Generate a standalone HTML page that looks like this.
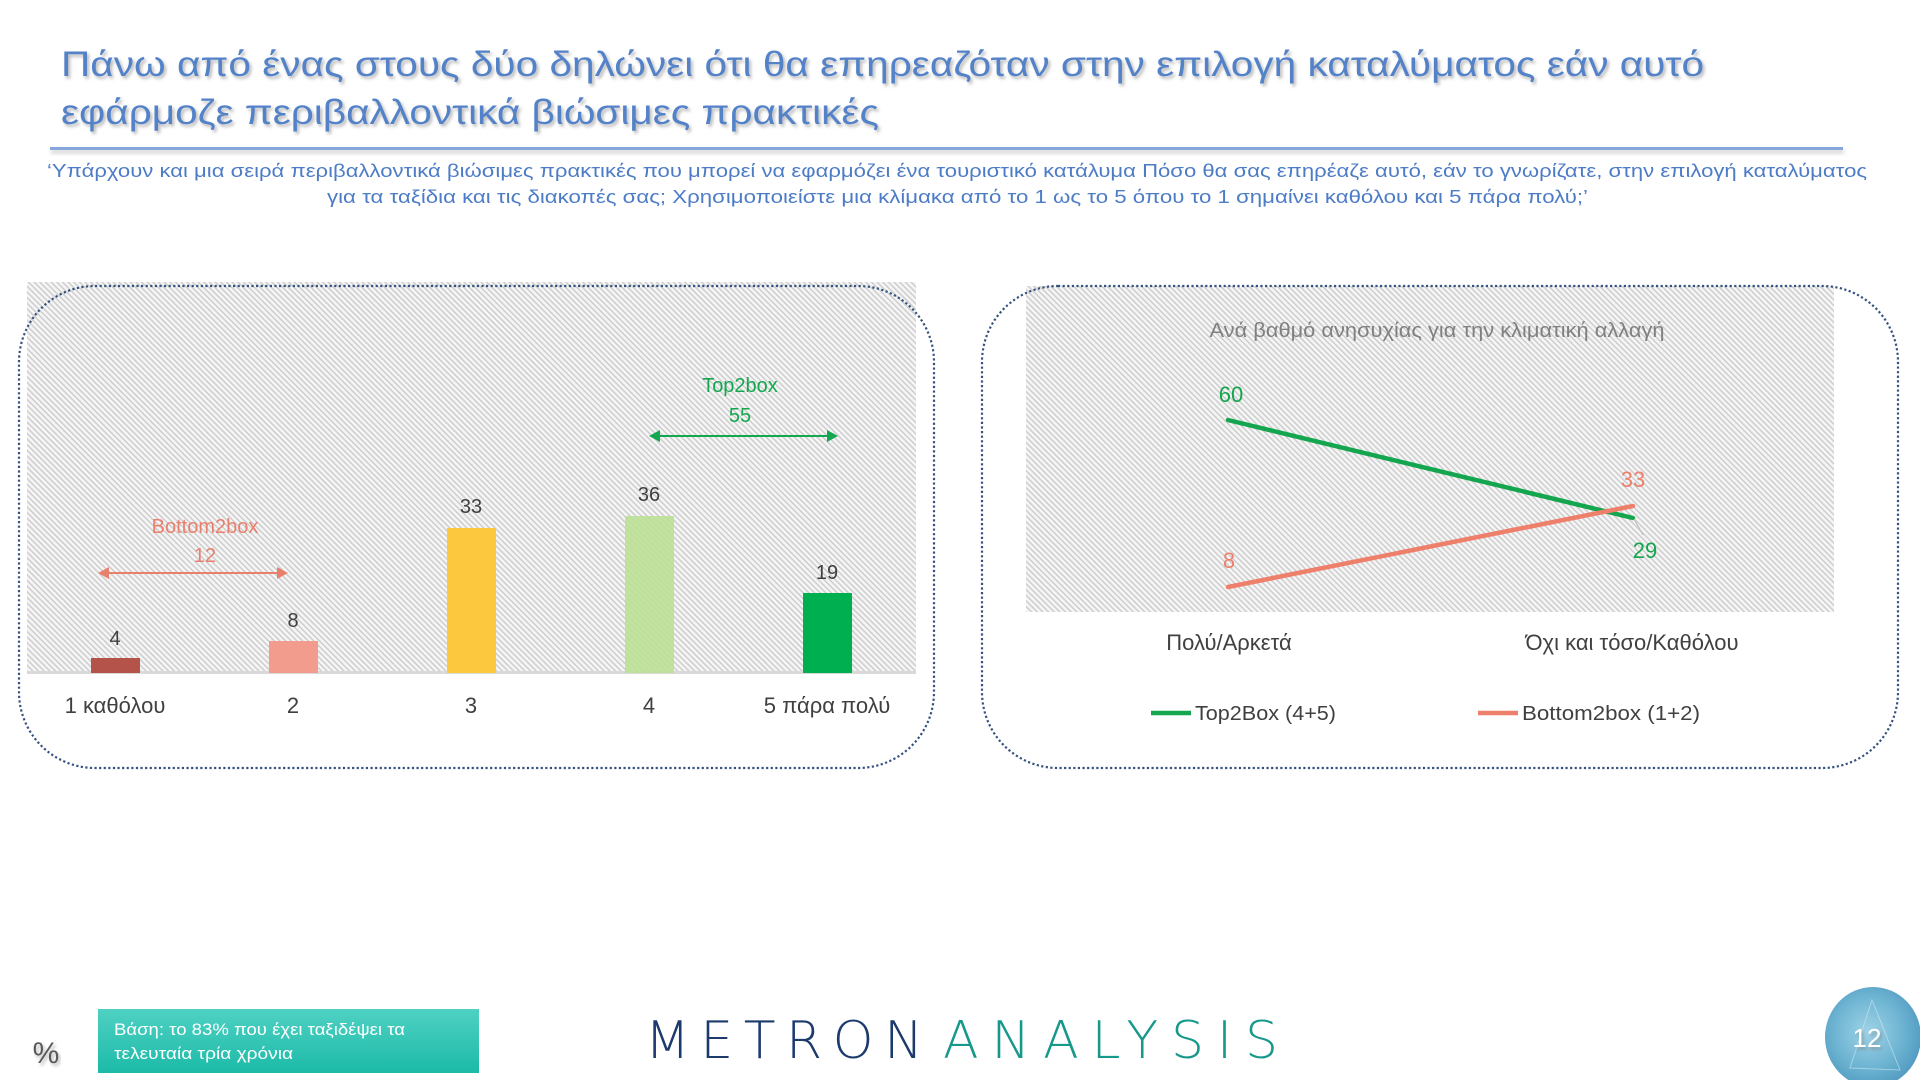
<!DOCTYPE html>
<html>
<head>
<meta charset="utf-8">
<style>
  html,body{margin:0;padding:0;background:#ffffff;}
  svg{display:block;}
  text{font-family:"Liberation Sans","DejaVu Sans",sans-serif;}
</style>
</head>
<body>
<svg width="1920" height="1080" viewBox="0 0 1920 1080" xmlns="http://www.w3.org/2000/svg">
  <defs>
    <pattern id="hatch" width="4" height="4" patternUnits="userSpaceOnUse" patternTransform="rotate(-45)">
      <rect width="4" height="4" fill="#f5f5f5"/>
      <rect width="1.4" height="4" fill="#cbcbcb"/>
    </pattern>
    <filter id="tshadow" x="-5%" y="-30%" width="110%" height="160%">
      <feDropShadow dx="2" dy="2.5" stdDeviation="1.5" flood-color="#7a7a7a" flood-opacity="0.55"/>
    </filter>
    <filter id="lshadow" x="-2%" y="-200%" width="104%" height="500%">
      <feDropShadow dx="1" dy="3" stdDeviation="2" flood-color="#8a8a8a" flood-opacity="0.5"/>
    </filter>
    <linearGradient id="teal" x1="0" y1="0" x2="0" y2="1">
      <stop offset="0" stop-color="#4fd1c3"/>
      <stop offset="1" stop-color="#1cbaa8"/>
    </linearGradient>
    <radialGradient id="circ" cx="0.45" cy="0.45" r="0.6">
      <stop offset="0" stop-color="#9fd3e6"/>
      <stop offset="0.6" stop-color="#6db4d2"/>
      <stop offset="1" stop-color="#4f98bf"/>
    </radialGradient>
  </defs>

  <!-- Title -->
  <g filter="url(#tshadow)" fill="#5282c9">
    <text x="61" y="76" font-size="35" textLength="1643" lengthAdjust="spacingAndGlyphs">Πάνω από ένας στους δύο δηλώνει ότι θα επηρεαζόταν στην επιλογή καταλύματος εάν αυτό</text>
    <text x="61" y="124" font-size="35" textLength="818" lengthAdjust="spacingAndGlyphs">εφάρμοζε περιβαλλοντικά βιώσιμες πρακτικές</text>
  </g>
  <!-- Rule -->
  <rect x="50" y="147" width="1793" height="3" fill="#86a6dc" filter="url(#lshadow)"/>

  <!-- Subtitle -->
  <g fill="#4d7cc6" font-size="18">
    <text x="47" y="177" textLength="1820" lengthAdjust="spacingAndGlyphs">‘Υπάρχουν και μια σειρά περιβαλλοντικά βιώσιμες πρακτικές που μπορεί να εφαρμόζει ένα τουριστικό κατάλυμα Πόσο θα σας επηρέαζε αυτό, εάν το γνωρίζατε, στην επιλογή καταλύματος</text>
    <text x="327" y="203" textLength="1261" lengthAdjust="spacingAndGlyphs">για τα ταξίδια και τις διακοπές σας; Χρησιμοποιείστε μια κλίμακα από το 1 ως το 5 όπου το 1 σημαίνει καθόλου και 5 πάρα πολύ;’</text>
  </g>

  <!-- LEFT PANEL -->
  <rect x="27" y="282" width="889" height="391" fill="url(#hatch)"/>
  <rect x="27" y="671" width="889" height="3" fill="#d9d9d9"/>
  <!-- bars -->
  <rect x="91" y="658" width="49" height="15" fill="#b4534a"/>
  <rect x="269" y="641" width="49" height="32" fill="#f19c8c"/>
  <rect x="447" y="528" width="49" height="145" fill="#fcc93e"/>
  <rect x="625" y="516" width="49" height="157" fill="#bde097" opacity="0.92"/>
  <rect x="803" y="593" width="49" height="80" fill="#00b050"/>
  <!-- value labels -->
  <g fill="#404040" font-size="20" text-anchor="middle">
    <text x="115" y="645">4</text>
    <text x="293" y="627">8</text>
    <text x="471" y="513">33</text>
    <text x="649" y="501">36</text>
    <text x="827" y="579">19</text>
  </g>
  <!-- category labels -->
  <g fill="#404040" font-size="22" text-anchor="middle">
    <text x="115" y="713">1 καθόλου</text>
    <text x="293" y="713">2</text>
    <text x="471" y="713">3</text>
    <text x="649" y="713">4</text>
    <text x="827" y="713">5 πάρα πολύ</text>
  </g>
  <!-- Bottom2box annotation -->
  <g fill="#e9806e" font-size="20" text-anchor="middle">
    <text x="205" y="533">Bottom2box</text>
    <text x="205" y="562">12</text>
  </g>
  <line x1="106" y1="573" x2="280" y2="573" stroke="#e9806e" stroke-width="2"/>
  <polygon points="98,573 109,567 109,579" fill="#e9806e"/>
  <polygon points="288,573 277,567 277,579" fill="#e9806e"/>
  <!-- Top2box annotation -->
  <g fill="#13a84f" font-size="20" text-anchor="middle">
    <text x="740" y="392">Top2box</text>
    <text x="740" y="422">55</text>
  </g>
  <line x1="657" y1="436" x2="830" y2="436" stroke="#13a84f" stroke-width="2"/>
  <polygon points="649,436 660,430 660,442" fill="#13a84f"/>
  <polygon points="838,436 827,430 827,442" fill="#13a84f"/>
  <!-- left border -->
  <rect x="19" y="286" width="915" height="482" rx="76" ry="76" fill="none" stroke="#35527f" stroke-width="2.2" stroke-dasharray="2.2 2.4"/>

  <!-- RIGHT PANEL -->
  <rect x="1026" y="286" width="808" height="326" fill="url(#hatch)"/>
  <text x="1437" y="337" font-size="20" fill="#808080" text-anchor="middle" textLength="455" lengthAdjust="spacingAndGlyphs">Ανά βαθμό ανησυχίας για την κλιματική αλλαγή</text>
  <!-- lines -->
  <line x1="1228" y1="420" x2="1633" y2="518" stroke="#14a64e" stroke-width="4.5" stroke-linecap="round"/>
  <line x1="1228" y1="587" x2="1633" y2="506" stroke="#ee7f6a" stroke-width="4.5" stroke-linecap="round"/>
  <line x1="1634" y1="519" x2="1643" y2="535" stroke="#bfbfbf" stroke-width="1.2"/>
  <g font-size="22" text-anchor="middle">
    <text x="1231" y="402" fill="#14a64e">60</text>
    <text x="1229" y="568" fill="#ee7f6a">8</text>
    <text x="1633" y="487" fill="#ee7f6a">33</text>
    <text x="1645" y="558" fill="#14a64e">29</text>
  </g>
  <g fill="#404040" font-size="22" text-anchor="middle">
    <text x="1229" y="650">Πολύ/Αρκετά</text>
    <text x="1632" y="650">Όχι και τόσο/Καθόλου</text>
  </g>
  <!-- legend -->
  <line x1="1151" y1="713" x2="1191" y2="713" stroke="#14a64e" stroke-width="4.5"/>
  <text x="1195" y="720" font-size="20" fill="#404040" textLength="141" lengthAdjust="spacingAndGlyphs">Top2Box (4+5)</text>
  <line x1="1478" y1="713" x2="1518" y2="713" stroke="#ee7f6a" stroke-width="4.5"/>
  <text x="1522" y="720" font-size="20" fill="#404040" textLength="178" lengthAdjust="spacingAndGlyphs">Bottom2box (1+2)</text>
  <!-- right border -->
  <rect x="982" y="286" width="916" height="482" rx="76" ry="76" fill="none" stroke="#35527f" stroke-width="2.2" stroke-dasharray="2.2 2.4"/>

  <!-- FOOTER -->
  <text x="46" y="1063" font-size="30" fill="#5a5a5a" text-anchor="middle" filter="url(#tshadow)">%</text>
  <rect x="98" y="1009" width="381" height="64" fill="url(#teal)"/>
  <g fill="#ffffff" font-size="17">
    <text x="114" y="1035" textLength="291" lengthAdjust="spacingAndGlyphs">Βάση: το 83% που έχει ταξιδέψει τα</text>
    <text x="114" y="1059" textLength="179" lengthAdjust="spacingAndGlyphs">τελευταία τρία χρόνια</text>
  </g>
  <!-- logo -->
  <text x="645" y="1058" font-size="52" fill="#1d3a6c" textLength="278" lengthAdjust="spacing" style="font-family:'DejaVu Sans','Liberation Sans',sans-serif;font-weight:200;">METRON</text>
  <text x="943" y="1058" font-size="52" fill="#16998b" textLength="335" lengthAdjust="spacing" style="font-family:'DejaVu Sans','Liberation Sans',sans-serif;font-weight:200;">ANALYSIS</text>
  <!-- page number circle -->
  <ellipse cx="1873" cy="1037" rx="48" ry="50" fill="url(#circ)"/>
  <polygon points="1872,1000 1900,1070 1850,1068" fill="none" stroke="#c9e7f2" stroke-width="1" opacity="0.6"/>
  <text x="1867" y="1047" font-size="26" fill="#ffffff" text-anchor="middle" filter="url(#tshadow)">12</text>
</svg>
</body>
</html>
